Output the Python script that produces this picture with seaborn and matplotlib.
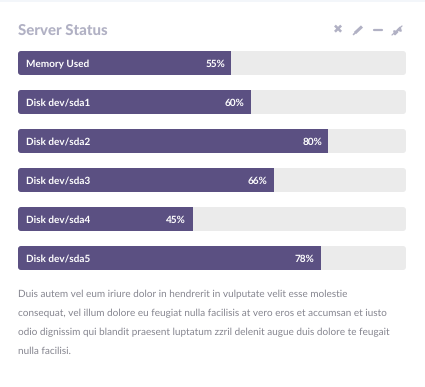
import matplotlib
matplotlib.use("Agg")
import matplotlib.pyplot as plt
from matplotlib.patches import FancyBboxPatch
from matplotlib.transforms import IdentityTransform
import pandas as pd
import seaborn as sns

categories = ["Memory Used", "Disk dev/sda1", "Disk dev/sda2", "Disk dev/sda3", "Disk dev/sda4", "Disk dev/sda5"]
values = [55, 60, 80, 66, 45, 78]
title = "Server Status"
paragraph = [
    "Duis autem vel eum iriure dolor in hendrerit in vulputate velit esse molestie",
    "consequat, vel illum dolore eu feugiat nulla facilisis at vero eros et accumsan et iusto",
    "odio dignissim qui blandit praesent luptatum zzril delenit augue duis dolore te feugait",
    "nulla facilisi.",
]

W, H = 425, 387
BAR = "#5b5082"
TRACK = "#ebebeb"
MUTED = "#b1b1c4"
TEXT = "#85858f"

sns.set_theme(style="white")
plt.rcParams["font.family"] = ["Lato", "DejaVu Sans"]
plt.rcParams["text.hinting"] = "none"
plt.rcParams["text.hinting_factor"] = 1

fig = plt.figure(figsize=(W / 100, H / 100), dpi=100, facecolor="white")
ax = fig.add_axes([18 / W, 1 - 270 / H, 388 / W, 219 / H])
df = pd.DataFrame({"name": categories, "value": values})
sns.barplot(data=df, x="value", y="name", color=BAR, saturation=1, width=24 / 39, ax=ax, zorder=2,
            linewidth=0, edgecolor="none")
ax.set_xlim(0, 100)
ax.set_ylim(5 + 12 / 39, -12 / 39)
ax.set_xlabel("")
ax.set_ylabel("")
ax.set_xticks([])
ax.set_yticks([])
sns.despine(ax=ax, left=True, bottom=True)
ax.patch.set_alpha(0)

fig.canvas.draw()
x0px = ax.get_window_extent().x0
x1px = ax.get_window_extent().x1
for bar, name, val in zip(list(ax.patches), categories, values):
    y0 = bar.get_y()
    h = bar.get_height()
    ext = bar.get_window_extent()
    r = 3
    track = FancyBboxPatch((x0px + r, ext.y0 + r), x1px - x0px - 2 * r, ext.height - 2 * r,
                           boxstyle=f"round,pad={r},rounding_size={r}", transform=IdentityTransform(),
                           fc=TRACK, ec="none", zorder=1)
    ax.add_patch(track)
    bar.set_clip_path(track)
    ax.annotate(name, (0, y0 + h / 2), xytext=(8, -1), textcoords="offset pixels", color="white",
                fontsize=6.9, fontweight="bold", va="center", ha="left", zorder=3)
    ax.annotate(f"{val}%", (val, y0 + h / 2), xytext=(-6.5, -1), textcoords="offset pixels", color="white",
                fontsize=7.3, fontweight="bold", va="center", ha="right", zorder=3)


def px(x, y):
    return x / W, 1 - y / H


fig.patches.append(plt.Rectangle((0, 1 - 1.5 / H), 1, 1.5 / H, transform=fig.transFigure, fc="#f3f6fa", ec="none"))
fig.text(*px(18, 30.5), title, color=MUTED, fontsize=11, fontweight="black", va="center", ha="left")
fig.text(*px(338, 30.5), "\u2716", color=MUTED, fontsize=8.5, fontweight="bold", va="center", ha="center",
         family="DejaVu Sans")
# pencil, minus and compress icons
fig.add_artist(plt.Line2D([355 / W, 362 / W], [1 - 33 / H, 1 - 26.5 / H], color=MUTED, lw=2.2, solid_capstyle="butt"))
fig.add_artist(plt.Line2D([353.5 / W, 355.5 / W], [1 - 34.5 / H, 1 - 32.5 / H], color=MUTED, lw=1.2))
fig.add_artist(plt.Line2D([373.5 / W, 381.5 / W], [1 - 30 / H, 1 - 30 / H], color=MUTED, lw=1.6))
fig.add_artist(plt.Line2D([392 / W, 402 / W], [1 - 35 / H, 1 - 26 / H], color=MUTED, lw=0.9))
for mx, my, ang in [(395, 32, 0), (399, 29, 180)]:
    fig.add_artist(plt.Line2D([mx / W], [1 - my / H], marker=(3, 0, 45 + ang), color=MUTED, ms=3.5, lw=0))

for i, line in enumerate(paragraph):
    fig.text(*px(18, 294.5 + i * 19), line, color=TEXT, fontsize=7.3, va="center", ha="left")

fig.savefig("out.png", dpi=100, facecolor="white")
